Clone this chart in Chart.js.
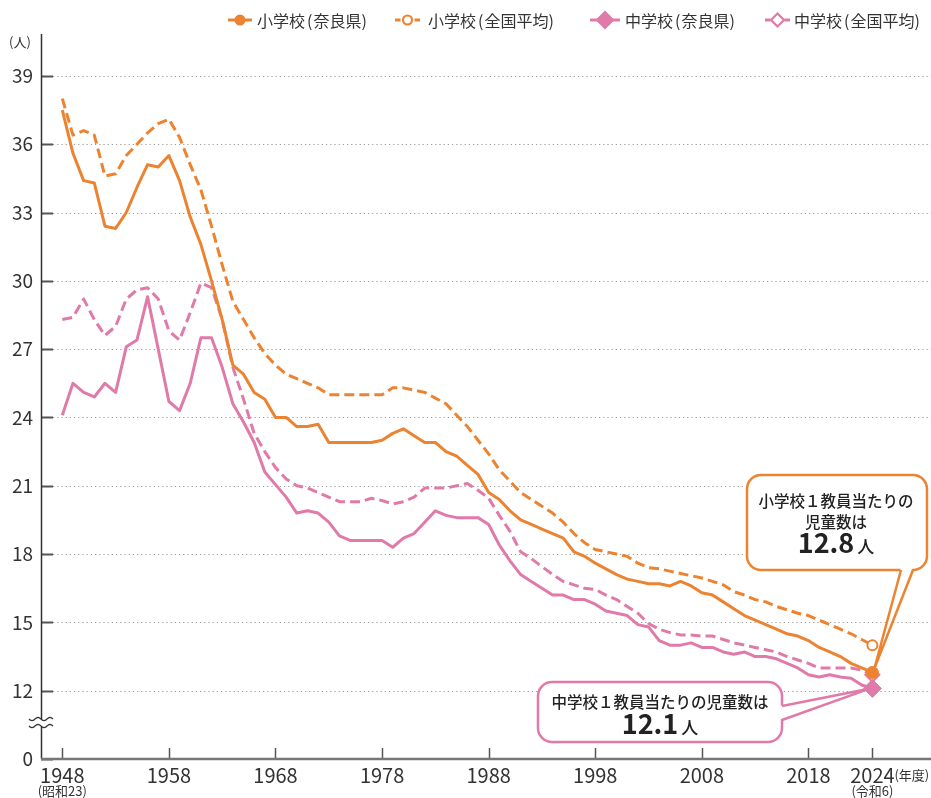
<!DOCTYPE html>
<html lang="ja">
<head>
<meta charset="utf-8">
<title>1教員当たりの児童生徒数の推移</title>
<script src="https://cdn.jsdelivr.net/npm/chart.js"></script>
<style>
  html, body { margin: 0; padding: 0; background: #fff; }
  canvas { display: block; }
</style>
</head>
<body>
<canvas id="myChart" width="931" height="798"></canvas>
<script>
// 年度
const years = [
  1948, 1949, 1950, 1951, 1952, 1953, 1954, 1955, 1956, 1957,
  1958, 1959, 1960, 1961, 1962, 1963, 1964, 1965, 1966, 1967,
  1968, 1969, 1970, 1971, 1972, 1973, 1974, 1975, 1976, 1977,
  1978, 1979, 1980, 1981, 1982, 1983, 1984, 1985, 1986, 1987,
  1988, 1989, 1990, 1991, 1992, 1993, 1994, 1995, 1996, 1997,
  1998, 1999, 2000, 2001, 2002, 2003, 2004, 2005, 2006, 2007,
  2008, 2009, 2010, 2011, 2012, 2013, 2014, 2015, 2016, 2017,
  2018, 2019, 2020, 2021, 2022, 2023, 2024
];

// 小学校（奈良県）
const elemNara = [
  37.5, 35.6, 34.4, 34.3, 32.4, 32.3, 33.0, 34.1, 35.1, 35.0,
  35.5, 34.4, 32.8, 31.6, 30.0, 28.3, 26.3, 25.9, 25.1, 24.8,
  24.0, 24.0, 23.6, 23.6, 23.7, 22.9, 22.9, 22.9, 22.9, 22.9,
  23.0, 23.3, 23.5, 23.2, 22.9, 22.9, 22.5, 22.3, 21.9, 21.5,
  20.7, 20.4, 19.9, 19.5, 19.3, 19.1, 18.9, 18.7, 18.1, 17.9,
  17.6, 17.35, 17.1, 16.9, 16.8, 16.7, 16.7, 16.6, 16.8, 16.6,
  16.3, 16.2, 15.9, 15.6, 15.3, 15.1, 14.9, 14.7, 14.5, 14.4,
  14.2, 13.9, 13.7, 13.5, 13.2, 13.0, 12.8
];

// 小学校（全国平均）
const elemNational = [
  38.0, 36.4, 36.6, 36.4, 34.6, 34.7, 35.5, 36.0, 36.5, 36.9,
  37.1, 36.3, 35.1, 34.0, 32.4, 30.7, 29.1, 28.3, 27.5, 26.8,
  26.3, 25.9, 25.7, 25.5, 25.3, 25.0, 25.0, 25.0, 25.0, 25.0,
  25.0, 25.3, 25.3, 25.2, 25.1, 24.85, 24.6, 24.1, 23.6, 23.0,
  22.4, 21.7, 21.2, 20.7, 20.4, 20.1, 19.8, 19.4, 18.9, 18.5,
  18.2, 18.1, 18.0, 17.9, 17.6, 17.4, 17.35, 17.25, 17.15, 17.05,
  16.95, 16.8, 16.65, 16.35, 16.2, 16.0, 15.9, 15.7, 15.55, 15.4,
  15.3, 15.1, 14.9, 14.7, 14.5, 14.25, 14.0
];

// 中学校（奈良県）
const juniorNara = [
  24.1, 25.5, 25.1, 24.9, 25.5, 25.1, 27.1, 27.4, 29.3, 27.0,
  24.7, 24.3, 25.5, 27.5, 27.5, 26.2, 24.6, 23.8, 22.9, 21.6,
  21.05, 20.5, 19.8, 19.9, 19.8, 19.4, 18.8, 18.6, 18.6, 18.6,
  18.6, 18.3, 18.7, 18.9, 19.4, 19.9, 19.7, 19.6, 19.6, 19.6,
  19.3, 18.4, 17.7, 17.1, 16.8, 16.5, 16.2, 16.2, 16.0, 16.0,
  15.8, 15.5, 15.4, 15.3, 14.9, 14.8, 14.2, 14.0, 14.0, 14.1,
  13.9, 13.9, 13.7, 13.6, 13.7, 13.5, 13.5, 13.4, 13.2, 13.0,
  12.7, 12.6, 12.7, 12.6, 12.55, 12.25, 12.1
];

// 中学校（全国平均）
const juniorNational = [
  28.3, 28.4, 29.2, 28.3, 27.6, 28.0, 29.2, 29.6, 29.7, 29.2,
  27.8, 27.4, 28.6, 29.9, 29.7, 28.3, 26.2, 24.8, 23.3, 22.5,
  21.8, 21.3, 21.0, 20.9, 20.7, 20.5, 20.3, 20.3, 20.3, 20.45,
  20.35, 20.2, 20.3, 20.5, 20.9, 20.9, 20.9, 21.0, 21.1, 20.8,
  20.45, 19.7, 19.0, 18.1, 17.8, 17.45, 17.1, 16.8, 16.65, 16.5,
  16.45, 16.2, 16.0, 15.7, 15.4, 14.95, 14.7, 14.55, 14.45, 14.45,
  14.4, 14.4, 14.25, 14.1, 14.0, 13.9, 13.8, 13.7, 13.5, 13.35,
  13.2, 13.0, 13.0, 13.0, 13.0, 12.9, 12.7
];

const xTicks = [1948, 1958, 1968, 1978, 1988, 1998, 2008, 2018, 2024];
// 縦軸は省略（波線）あり：9 の位置に「0」を表示
const yTicks = [9, 12, 15, 18, 21, 24, 27, 30, 33, 36, 39];
const yTickLabels = ["0", "12", "15", "18", "21", "24", "27", "30", "33", "36", "39"];

const orange = "#ec8330";
const pink = "#e07aa9";
const textColor = "#333";
const FONT = '"Noto Sans CJK JP", "Noto Sans", sans-serif';

const toXY = (vals) => vals.map((v, i) => ({ x: years[i], y: v }));
const lastOnly = (vals, r) => vals.map((v, i) => (i === vals.length - 1 ? r : 0));

let decorPlugin = {
  id: "decor",
  beforeDatasetsDraw(chart) {
    const ctx = chart.ctx;
    const area = chart.chartArea;
    const xs = chart.scales.x;
    const ys = chart.scales.y;
    ctx.save();
    // 横の点線
    ctx.strokeStyle = "#9a9a9a";
    ctx.lineWidth = 1.2;
    ctx.setLineDash([1.2, 3]);
    yTicks.forEach((v) => {
      if (v === 9) return;
      const y = Math.round(ys.getPixelForValue(v)) + 0.5;
      ctx.beginPath();
      ctx.moveTo(area.left + 12, y);
      ctx.lineTo(area.right, y);
      ctx.stroke();
    });
    ctx.setLineDash([]);
    // 目盛り（内側）
    ctx.strokeStyle = "#555";
    ctx.lineWidth = 2;
    yTicks.forEach((v) => {
      const y = Math.round(ys.getPixelForValue(v)) + 0.5;
      ctx.beginPath();
      ctx.moveTo(area.left, y);
      ctx.lineTo(area.left + 12, y);
      ctx.stroke();
    });
    ctx.lineWidth = 1.5;
    xTicks.forEach((v) => {
      const x = Math.round(xs.getPixelForValue(v)) + 0.5;
      ctx.beginPath();
      ctx.moveTo(x, area.bottom);
      ctx.lineTo(x, area.bottom - 11);
      ctx.stroke();
    });
    // 軸
    ctx.strokeStyle = "#333";
    ctx.lineWidth = 1.5;
    ctx.beginPath();
    ctx.moveTo(area.left + 0.5, area.top);
    ctx.lineTo(area.left + 0.5, area.bottom);
    ctx.stroke();
    ctx.strokeStyle = "#777";
    ctx.lineWidth = 2.5;
    ctx.beginPath();
    ctx.moveTo(area.left, area.bottom);
    ctx.lineTo(area.right, area.bottom);
    ctx.stroke();
    // 波線（省略）
    const wy = ys.getPixelForValue(10.6);
    ctx.fillStyle = "#fff";
    ctx.fillRect(area.left - 8, wy - 3, 18, 7);
    ctx.strokeStyle = "#333";
    ctx.lineWidth = 1.3;
    [wy - 3.5, wy + 3.5].forEach((yy) => {
      ctx.beginPath();
      for (let i = 0; i <= 24; i++) {
        const px = area.left - 12 + i;
        const py = yy + Math.sin((i / 24) * Math.PI * 4) * 1.6;
        if (i === 0) ctx.moveTo(px, py);
        else ctx.lineTo(px, py);
      }
      ctx.stroke();
    });
    // 横軸ラベル
    ctx.fillStyle = textColor;
    ctx.font = "20px " + FONT;
    ctx.textAlign = "center";
    ctx.textBaseline = "middle";
    xTicks.forEach((v) => {
      ctx.fillText(String(v), xs.getPixelForValue(v), 775);
    });
    ctx.restore();
  },
  afterDatasetsDraw(chart) {
    const ctx = chart.ctx;
    const xs = chart.scales.x;
    ctx.save();
    // 単位
    ctx.fillStyle = textColor;
    ctx.font = "13px " + FONT;
    ctx.textAlign = "left";
    ctx.textBaseline = "middle";
    ctx.fillText("(人)", 9, 42);
    // 横軸の補足
    ctx.textAlign = "center";
    ctx.fillText("(昭和23)", xs.getPixelForValue(1948), 791);
    ctx.fillText("(令和6)", xs.getPixelForValue(2024), 791);
    ctx.textAlign = "left";
    ctx.fillText("(年度)", xs.getPixelForValue(2024) + 22, 775);

    // 凡例
    const legendY = 20;
    const items = [
      { x1: 228, x2: 252, tx: 257, color: orange, dashed: false, style: "circle", fill: true, text: "小学校(奈良県)" },
      { x1: 395, x2: 420, tx: 428, color: orange, dashed: true, style: "circle", fill: false, text: "小学校(全国平均)" },
      { x1: 590, x2: 620, tx: 625, color: pink, dashed: false, style: "diamond", fill: true, text: "中学校(奈良県)" },
      { x1: 765, x2: 790, tx: 794, color: pink, dashed: true, style: "diamond", fill: false, text: "中学校(全国平均)" },
    ];
    items.forEach((it) => {
      const cx = (it.x1 + it.x2) / 2;
      ctx.strokeStyle = it.color;
      ctx.lineWidth = 3;
      ctx.beginPath();
      if (it.dashed) {
        ctx.moveTo(it.x1, legendY);
        ctx.lineTo(cx - 7, legendY);
        ctx.moveTo(cx + 7, legendY);
        ctx.lineTo(it.x2, legendY);
      } else {
        ctx.moveTo(it.x1, legendY);
        ctx.lineTo(it.x2, legendY);
      }
      ctx.stroke();
      ctx.beginPath();
      if (it.style === "circle") {
        ctx.arc(cx, legendY, it.fill ? 5.5 : 4.5, 0, Math.PI * 2);
      } else {
        const r = it.fill ? 9.5 : 6.5;
        ctx.moveTo(cx, legendY - r);
        ctx.lineTo(cx + r, legendY);
        ctx.lineTo(cx, legendY + r);
        ctx.lineTo(cx - r, legendY);
        ctx.closePath();
      }
      ctx.fillStyle = it.fill ? it.color : "#fff";
      ctx.fill();
      if (!it.fill) {
        ctx.lineWidth = 2.2;
        ctx.stroke();
      }
      ctx.fillStyle = textColor;
      ctx.font = "16px " + FONT;
      ctx.textAlign = "left";
      ctx.textBaseline = "middle";
      drawLegendText(ctx, it.text, it.tx, legendY + 1);
    });

    // 吹き出し
    const elemPt = chart.getDatasetMeta(0).data[elemNara.length - 1];
    const juniorPt = chart.getDatasetMeta(2).data[juniorNara.length - 1];
    drawCallout(ctx, { x: 747, y: 475, w: 180, h: 95, r: 14 }, orange,
      [{ x: 901, y: 570 }, { x: elemPt.x + 2, y: elemPt.y - 4 }, { x: 913, y: 570 }], "bottom");
    drawCallout(ctx, { x: 538, y: 682, w: 244, h: 60, r: 14 }, pink,
      [{ x: 782, y: 706 }, { x: juniorPt.x - 2, y: juniorPt.y }, { x: 782, y: 720 }], "right");

    ctx.fillStyle = "#222";
    ctx.textAlign = "center";
    ctx.textBaseline = "middle";
    ctx.font = "500 15.5px " + FONT;
    ctx.fillText("小学校１教員当たりの", 836, 501);
    ctx.fillText("児童数は", 836, 522);
    drawValue(ctx, "12.8", "人", 836, 553);
    ctx.textBaseline = "middle";
    ctx.font = "500 15.5px " + FONT;
    ctx.fillText("中学校１教員当たりの児童数は", 660, 702);
    drawValue(ctx, "12.1", "人", 660, 734);
    ctx.restore();
  },
};

// 括弧の前後に少し隙間を入れて描く
function drawLegendText(ctx, text, x, y) {
  let cur = x;
  for (const ch of text) {
    const gapBefore = ch === "(" ? 2 : 0;
    const gapAfter = ch === "(" ? 1 : 0;
    cur += gapBefore;
    ctx.fillText(ch, cur, y);
    cur += ctx.measureText(ch).width + gapAfter;
  }
}

function drawValue(ctx, num, unit, cx, baseline) {
  ctx.textBaseline = "alphabetic";
  ctx.font = "bold 27px " + FONT;
  const w1 = ctx.measureText(num).width;
  ctx.font = "500 17px " + FONT;
  const w2 = ctx.measureText(unit).width;
  const start = cx - (w1 + w2 + 3) / 2;
  ctx.textAlign = "left";
  ctx.font = "bold 27px " + FONT;
  ctx.fillText(num, start, baseline);
  ctx.font = "500 17px " + FONT;
  ctx.fillText(unit, start + w1 + 3, baseline);
  ctx.textAlign = "center";
}

function drawCallout(ctx, b, color, tail, side) {
  ctx.save();
  ctx.lineWidth = 2.5;
  ctx.strokeStyle = color;
  ctx.fillStyle = "#fff";
  ctx.beginPath();
  ctx.roundRect(b.x, b.y, b.w, b.h, b.r);
  ctx.fill();
  ctx.stroke();
  // しっぽ
  const inset = 3;
  const p1 = { x: tail[0].x, y: tail[0].y };
  const p2 = { x: tail[2].x, y: tail[2].y };
  if (side === "bottom") { p1.y -= inset; p2.y -= inset; }
  else { p1.x -= inset; p2.x -= inset; }
  ctx.beginPath();
  ctx.moveTo(p1.x, p1.y);
  ctx.lineTo(tail[1].x, tail[1].y);
  ctx.lineTo(p2.x, p2.y);
  ctx.closePath();
  ctx.fill();
  ctx.beginPath();
  ctx.moveTo(tail[0].x, tail[0].y);
  ctx.lineTo(tail[1].x, tail[1].y);
  ctx.lineTo(tail[2].x, tail[2].y);
  ctx.lineJoin = "miter";
  ctx.stroke();
  ctx.restore();
}

let chart1 = document.getElementById("myChart").getContext("2d");
const myChart = new Chart(chart1, {
  type: "line",
  data: {
    datasets: [
      {
        label: "小学校（奈良県）",
        data: toXY(elemNara),
        borderColor: orange,
        backgroundColor: orange,
        borderWidth: 3,
        pointStyle: "circle",
        pointRadius: lastOnly(elemNara, 6),
        pointBackgroundColor: orange,
        pointBorderColor: orange,
        pointBorderWidth: 1,
        order: 1,
      },
      {
        label: "小学校（全国平均）",
        data: toXY(elemNational),
        borderColor: orange,
        borderWidth: 3,
        borderDash: [10, 5],
        pointStyle: "circle",
        pointRadius: lastOnly(elemNational, 5),
        pointBackgroundColor: "#fff",
        pointBorderColor: orange,
        pointBorderWidth: 2,
        order: 3,
      },
      {
        label: "中学校（奈良県）",
        data: toXY(juniorNara),
        borderColor: pink,
        backgroundColor: pink,
        borderWidth: 3,
        pointStyle: "rectRot",
        pointRadius: lastOnly(juniorNara, 9),
        pointBackgroundColor: pink,
        pointBorderColor: pink,
        pointBorderWidth: 1,
        order: 0,
      },
      {
        label: "中学校（全国平均）",
        data: toXY(juniorNational),
        borderColor: pink,
        borderWidth: 3,
        borderDash: [10, 5],
        pointStyle: "rectRot",
        pointRadius: lastOnly(juniorNational, 7),
        pointBackgroundColor: "#fff",
        pointBorderColor: pink,
        pointBorderWidth: 2,
        order: 4,
      },
    ],
  },
  options: {
    responsive: false,
    animation: false,
    events: [],
    layout: { autoPadding: false, padding: { top: 34, left: 0, right: 0, bottom: 0 } },
    elements: { line: { tension: 0, borderJoinStyle: "round", borderCapStyle: "butt" } },
    plugins: { legend: { display: false }, tooltip: { enabled: false } },
    scales: {
      x: {
        type: "linear",
        min: 1946,
        max: 2029.5,
        grid: { display: false, drawTicks: false },
        border: { display: false },
        afterBuildTicks: (scale) => {
          scale.ticks = xTicks.map((v) => ({ value: v }));
        },
        afterFit: (scale) => { scale.height = 39; },
        ticks: { display: false },
      },
      y: {
        min: 9,
        max: 40.84,
        grid: { display: false, drawTicks: false },
        border: { display: false },
        afterBuildTicks: (scale) => {
          scale.ticks = yTicks.map((v) => ({ value: v }));
        },
        afterFit: (scale) => { scale.width = 41; },
        ticks: {
          autoSkip: false,
          padding: 8,
          color: textColor,
          font: { family: FONT, size: 19 },
          callback: (v) => yTickLabels[yTicks.indexOf(v)],
        },
      },
    },
  },
  plugins: [decorPlugin],
});
</script>
</body>
</html>
